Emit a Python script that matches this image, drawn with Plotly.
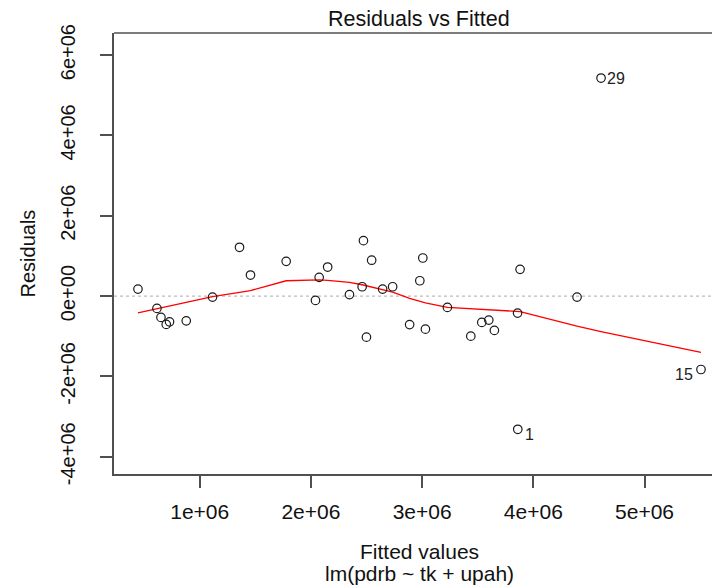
import plotly.graph_objects as go

# Fitted values and residuals of lm(pdrb ~ tk + upah), ordered by fitted value
fitted = [444500, 615300, 651200, 698900, 728500, 878700, 1115100, 1357800,
          1456600, 1777500, 2040900, 2074200, 2150600, 2346500, 2460700,
          2472400, 2499300, 2546100, 2644900, 2734800, 2887600, 2979300,
          3006300, 3029700, 3227400, 3437800, 3536600, 3599600, 3649900,
          3858400, 3860200, 3880900, 4393300, 4609000, 5507900]
residuals = [174600, -306700, -531200, -705700, -640900, -616000, -25000,
             1214500, 523700, 865300, -107200, 466300, 723200, 37400, 231900,
             1379000, -1022400, 892800, 174600, 231900, -710700, 381500,
             947600, -823000, -281800, -997500, -655900, -598500, -855400,
             -423900, -3316700, 665800, -25000, 5428900, -1828000]

# Lowess smooth evaluated at each fitted value
smooth = [-416500, -314200, -291800, -264300, -244400, -154600, -12500, 94800,
          137200, 381500, 404000, 404000, 391500, 341600, 281800, 274300,
          254400, 224400, 162100, 99800, -57400, -124700, -149600, -167100,
          -281800, -311700, -324200, -331700, -339200, -366600, -366600,
          -386500, -748100, -885300, -1404000]

# Observations flagged with their row numbers
flag_index = [33, 30, 34]
flag_text = ["29", "1", "15"]

x_ticks = [1e6, 2e6, 3e6, 4e6, 5e6]
x_tick_text = ["1e+06", "2e+06", "3e+06", "4e+06", "5e+06"]
y_ticks = [-4e6, -2e6, 0, 2e6, 4e6, 6e6]
y_tick_text = ["-4e+06", "-2e+06", "0e+00", "2e+06", "4e+06", "6e+06"]

FONT = "Liberation Sans, Arial, sans-serif"
AXIS_COL = "#505050"
TEXT_COL = "#111111"
X_RANGE = [229000, 5607000]
Y_RANGE = [-4430000, 6550000]
X_CENTER = 2976000  # centre of the full plotting region

fig = go.Figure()

fig.add_trace(go.Scatter(
    x=fitted, y=smooth, mode="lines",
    line=dict(color="#ff0000", width=1.3),
    hoverinfo="skip", showlegend=False,
))

fig.add_trace(go.Scatter(
    x=fitted, y=residuals, mode="markers",
    marker=dict(symbol="circle-open", size=8.5, color="#1a1a1a",
                line=dict(color="#1a1a1a", width=1.2)),
    showlegend=False,
))

# dotted reference line at zero
fig.add_shape(type="line", xref="paper", x0=0, x1=1, yref="y", y0=0, y1=0,
              line=dict(color="#bdbdbd", width=1.2, dash="dot"), layer="below")

# top border of the plot box
fig.add_shape(type="line", xref="paper", x0=0, x1=1, yref="paper", y0=1, y1=1,
              line=dict(color=AXIS_COL, width=1.6))

label_pos = {
    "29": dict(xanchor="left", xshift=4, yshift=0),
    "1": dict(xanchor="left", xshift=5, yshift=-5),
    "15": dict(xanchor="right", xshift=-6, yshift=-5),
}
for i, t in zip(flag_index, flag_text):
    fig.add_annotation(x=fitted[i], y=residuals[i], text=t, showarrow=False,
                       yanchor="middle", font=dict(family=FONT, size=16, color="#222"),
                       **label_pos[t])

fig.add_annotation(x=X_CENTER, xref="x", y=1, yref="paper", yshift=14,
                   text="Residuals vs Fitted", showarrow=False,
                   yanchor="middle", font=dict(family=FONT, size=21.5, color=TEXT_COL))
fig.add_annotation(x=X_CENTER, xref="x", y=0, yref="paper", yshift=-77,
                   text="Fitted values", showarrow=False,
                   yanchor="middle", font=dict(family=FONT, size=21, color=TEXT_COL))
fig.add_annotation(x=X_CENTER, xref="x", y=0, yref="paper", yshift=-99,
                   text="lm(pdrb ~ tk + upah)", showarrow=False,
                   yanchor="middle", font=dict(family=FONT, size=21, color=TEXT_COL))
fig.add_annotation(x=0, xref="paper", xshift=-87, y=0.5, yref="paper",
                   text="Residuals", showarrow=False, textangle=-90,
                   xanchor="center", yanchor="middle",
                   font=dict(family=FONT, size=20, color=TEXT_COL))

fig.update_xaxes(
    range=X_RANGE, tickvals=x_ticks, ticktext=x_tick_text,
    showline=True, linecolor=AXIS_COL, linewidth=1.6,
    ticks="outside", ticklen=12, tickwidth=1.6, tickcolor=AXIS_COL,
    ticklabelstandoff=6,
    showgrid=False, zeroline=False,
    tickfont=dict(family=FONT, size=21, color=TEXT_COL),
)
fig.update_yaxes(
    range=Y_RANGE, tickvals=y_ticks, ticktext=y_tick_text, tickangle=-90,
    showline=True, linecolor=AXIS_COL, linewidth=1.6,
    ticks="outside", ticklen=12, tickwidth=1.6, tickcolor=AXIS_COL,
    ticklabelstandoff=17,
    showgrid=False, zeroline=False,
    tickfont=dict(family=FONT, size=20, color=TEXT_COL),
)

fig.update_layout(
    width=712, height=586,
    margin=dict(l=114, r=0, t=33, b=112),
    plot_bgcolor="white", paper_bgcolor="white",
    showlegend=False,
)

fig.write_html("out.html")
